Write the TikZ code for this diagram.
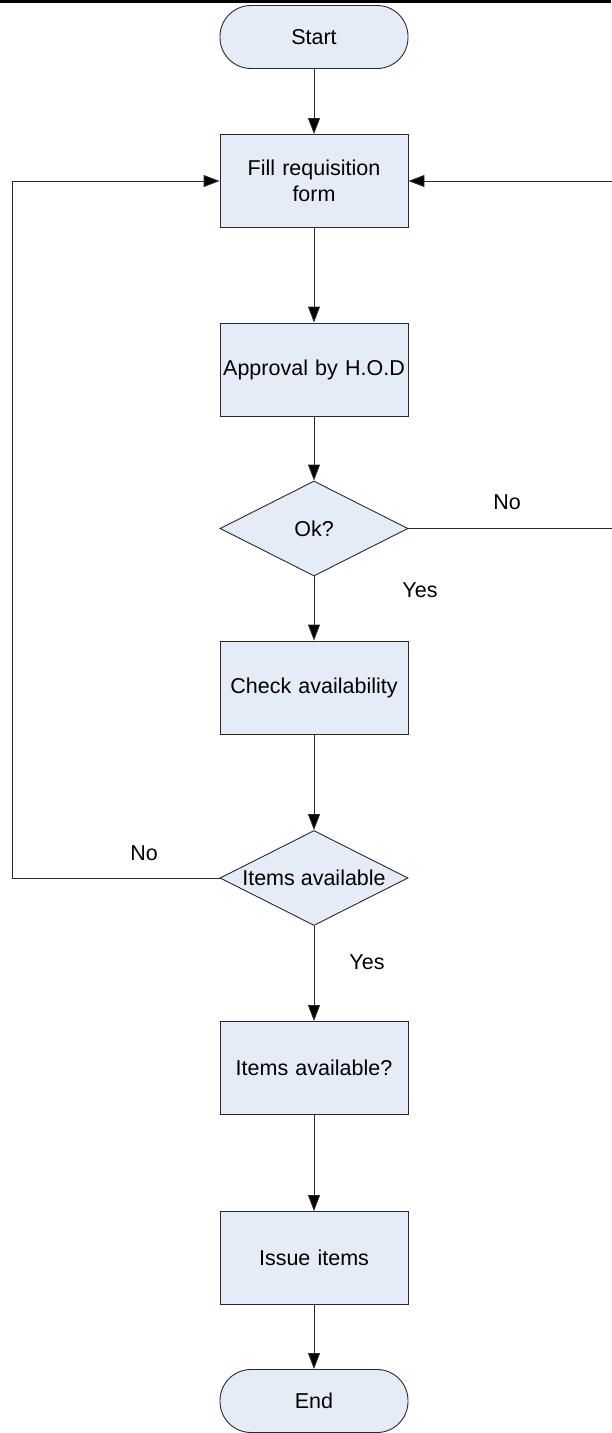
\documentclass[tikz,border=0pt]{standalone}
\usepackage{fontspec}
\setmainfont{Liberation Sans}
\usetikzlibrary{shapes.geometric,arrows.meta}
\definecolor{boxfill}{HTML}{E6ECF7}
\definecolor{edge}{HTML}{2A2A2A}
\tikzset{
  base/.style={draw=edge, line width=0.9pt, fill=boxfill, inner sep=0pt, font=\fontsize{21.5}{26}\selectfont, align=center},
  procbox/.style={base, rectangle, minimum width=188pt, minimum height=93pt, text width=186pt},
  termbox/.style={base, rectangle, rounded corners=31pt, minimum width=188pt, minimum height=63pt},
  decbox/.style={base, diamond, minimum width=188pt, minimum height=95pt},
  txt/.style={font=\fontsize{21.5}{26}\selectfont, inner sep=0pt},
  conn/.style={draw=edge, line width=0.9pt, -{Triangle[length=16pt,width=12pt,fill=black]}},
}
\begin{document}
\begin{tikzpicture}[x=1pt,y=1pt]
\useasboundingbox (0,0) rectangle (611,-1433);
\fill (0,0) rectangle (611,-3);
\node[termbox] (start) at (314,-37) {Start};
\node[procbox] (fill) at (314,-181) {Fill requisition\\form};
\node[procbox] (appr) at (314,-369.5) {Approval by H.O.D};
\node[decbox] (ok) at (314,-528.5) {};
\node[txt] (oktxt) at (ok.center) {Ok?};
\node[procbox] (check) at (314,-687.5) {Check availability};
\node[decbox] (avail) at (314,-878) {};
\node[txt] (availtxt) at (avail.center) {Items available};
\node[procbox] (avq) at (314,-1068) {Items available?};
\node[procbox] (issue) at (314,-1258) {Issue items};
\node[termbox] (end) at (314,-1401) {End};

\coordinate (L) at (12,-878);
\coordinate (R) at (613,-528.5);

\draw[conn] (start) -- (fill);
\draw[conn] (fill) -- (appr);
\draw[conn] (appr) -- (ok);
\draw[conn] (ok) -- (check);
\draw[conn] (check) -- (avail);
\draw[conn] (avail) -- (avq);
\draw[conn] (avq) -- (issue);
\draw[conn] (issue) -- (end);
\draw[conn] (avail.west) -- (L) |- (fill.west);
\draw[conn] (ok.east) -- (R) |- (fill.east);

\node[txt] (no1) at (507,-502) {No};
\node[txt] (yes1) at (420,-590) {Yes};
\node[txt] (no2) at (144,-853) {No};
\node[txt] (yes2) at (367,-962) {Yes};
\end{tikzpicture}
\end{document}
